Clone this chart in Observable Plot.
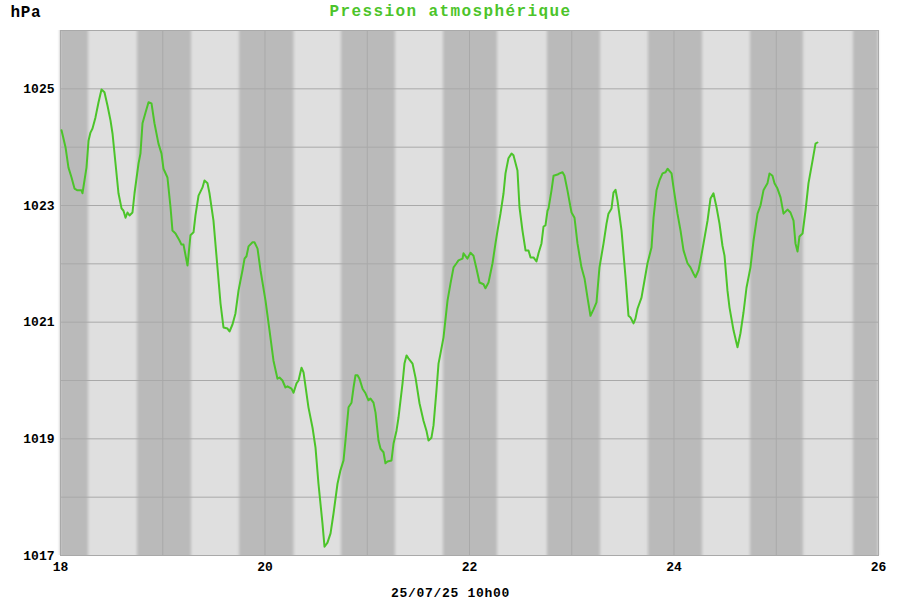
<!DOCTYPE html>
<html><head><meta charset="utf-8">
<script src="https://cdn.jsdelivr.net/npm/d3@7"></script>
<script src="https://cdn.jsdelivr.net/npm/@observablehq/plot@0.6"></script>
<style>body{margin:0;background:#fff} #chart{width:900px;height:600px}</style>
</head><body><div id="chart"></div>
<script>
const title = "Pression atmosphérique";
const unit = "hPa";
const caption = "25/07/25 10h00";
const yTicks = [1017, 1019, 1021, 1023, 1025];
const xTicks = [18, 20, 22, 24, 26];
const gridY = [1017, 1018, 1019, 1020, 1021, 1022, 1023, 1024, 1025, 1026];
const gridX = [18, 19, 20, 21, 22, 23, 24, 25, 26];
const nightStarts = [18.0, 18.753, 19.751, 20.748, 21.746, 22.763, 23.750, 24.748, 25.755];
const nightEnds = [18.274, 19.281, 20.284, 21.276, 22.274, 23.281, 24.279, 25.266, 26.0];
const times = [
18.010,18.049,18.078,18.108,18.137,18.166,18.205,18.215,18.254,18.274,
18.293,18.313,18.342,18.372,18.401,18.430,18.460,18.489,18.509,18.538,
18.567,18.597,18.616,18.636,18.655,18.675,18.704,18.724,18.763,18.782,
18.802,18.831,18.861,18.890,18.919,18.958,18.988,19.007,19.046,19.076,
19.095,19.125,19.164,19.183,19.203,19.242,19.271,19.301,19.320,19.350,
19.389,19.408,19.438,19.457,19.496,19.535,19.565,19.594,19.633,19.653,
19.682,19.711,19.741,19.780,19.800,19.819,19.839,19.878,19.897,19.927,
19.956,20.005,20.044,20.083,20.122,20.142,20.171,20.200,20.220,20.259,
20.279,20.308,20.328,20.357,20.377,
20.425,20.465,20.494,20.523,
20.562,20.582,20.611,20.641,20.670,20.709,20.738,20.768,20.787,20.817,
20.846,20.866,20.885,20.905,20.924,20.954,20.983,21.012,21.032,21.061,
21.081,21.110,21.130,21.159,21.178,21.198,21.237,21.257,21.286,21.306,
21.345,21.364,21.384,21.403,21.443,21.472,21.511,21.550,21.579,21.599,
21.628,21.648,21.677,21.697,21.716,21.746,21.785,21.814,21.844,21.873,
21.892,21.932,21.941,21.980,22.010,22.039,22.068,22.098,22.137,22.156,
22.186,22.225,22.254,22.274,22.303,22.333,22.352,22.381,22.411,22.430,
22.469,22.489,22.518,22.548,22.577,22.597,22.626,22.655,22.675,22.704,
22.724,22.743,22.763,22.773,22.802,22.822,22.861,22.880,22.910,22.929,
22.958,22.988,22.998,23.027,23.056,23.095,23.125,23.154,23.183,23.213,
23.242,23.271,23.311,23.340,23.359,23.389,23.408,23.428,23.447,23.487,
23.526,23.555,23.575,23.604,23.623,23.643,23.682,23.711,23.741,23.780,
23.800,23.829,23.858,23.888,23.917,23.937,23.976,23.995,24.034,24.064,
24.093,24.132,24.161,24.191,24.210,24.240,24.259,24.289,24.328,24.357,
24.386,24.416,24.445,24.474,24.494,24.523,24.543,24.582,24.621,24.650,
24.680,24.709,24.748,24.778,24.817,24.846,24.875,24.914,24.934,24.963,
24.983,25.012,25.042,25.071,25.110,25.139,25.169,25.188,25.208,25.227,
25.257,25.286,25.315,25.355,25.384,25.403];
const pressures = [
1024.29,1024.00,1023.65,1023.48,1023.29,1023.26,1023.26,1023.21,1023.65,1024.11,
1024.25,1024.32,1024.51,1024.77,1024.99,1024.94,1024.71,1024.46,1024.23,1023.72,
1023.21,1022.95,1022.91,1022.79,1022.88,1022.83,1022.88,1023.21,1023.72,1023.89,
1024.41,1024.59,1024.77,1024.75,1024.41,1024.06,1023.89,1023.63,1023.48,1022.97,
1022.57,1022.52,1022.40,1022.33,1022.33,1021.97,1022.49,1022.54,1022.83,1023.17,
1023.31,1023.43,1023.38,1023.21,1022.74,1021.94,1021.32,1020.91,1020.89,1020.84,
1020.96,1021.15,1021.54,1021.89,1022.09,1022.13,1022.30,1022.37,1022.37,1022.26,
1021.89,1021.37,1020.86,1020.34,1020.03,1020.05,1020.00,1019.88,1019.90,1019.86,
1019.79,1019.95,1020.00,1020.22,1020.14,
1019.54,1019.19,1018.85,1018.23,
1017.55,1017.15,1017.22,1017.38,1017.72,1018.23,1018.46,1018.63,1018.97,1019.54,
1019.62,1019.88,1020.09,1020.09,1020.03,1019.86,1019.78,1019.66,1019.69,1019.62,
1019.45,1018.97,1018.83,1018.77,1018.58,1018.61,1018.63,1018.92,1019.14,1019.37,
1019.95,1020.29,1020.43,1020.38,1020.29,1020.05,1019.61,1019.31,1019.14,1018.97,
1019.02,1019.23,1019.83,1020.29,1020.46,1020.74,1021.37,1021.66,1021.94,1022.01,
1022.06,1022.09,1022.18,1022.09,1022.19,1022.14,1021.92,1021.68,1021.65,1021.58,
1021.68,1022.01,1022.35,1022.57,1022.86,1023.21,1023.55,1023.81,1023.89,1023.86,
1023.60,1022.97,1022.57,1022.23,1022.23,1022.11,1022.11,1022.04,1022.18,1022.35,
1022.64,1022.66,1022.91,1022.95,1023.26,1023.51,1023.53,1023.55,1023.57,1023.51,
1023.26,1022.97,1022.88,1022.79,1022.35,1021.94,1021.75,1021.42,1021.11,1021.22,
1021.34,1021.94,1022.35,1022.69,1022.86,1022.95,1023.22,1023.27,1023.09,1022.57,
1021.77,1021.11,1021.08,1020.98,1021.06,1021.23,1021.42,1021.71,1022.01,1022.28,
1022.79,1023.26,1023.43,1023.55,1023.57,1023.63,1023.55,1023.31,1022.86,1022.57,
1022.23,1022.01,1021.94,1021.83,1021.77,1021.89,1022.06,1022.35,1022.74,1023.12,
1023.21,1022.97,1022.69,1022.31,1022.14,1021.54,1021.25,1020.86,1020.57,1020.81,
1021.17,1021.59,1021.94,1022.40,1022.86,1023.00,1023.26,1023.38,1023.55,1023.51,
1023.38,1023.29,1023.14,1022.86,1022.93,1022.88,1022.74,1022.35,1022.21,1022.47,
1022.52,1022.91,1023.38,1023.77,1024.06,1024.08];

const n = Math.min(times.length, pressures.length);
const series = d3.range(n).map(i => ({t: times[i], p: pressures[i]}));
const nights = nightStarts.map((s, i) => ({x1: s, x2: nightEnds[i]}));
const green = "#4cc42a";
const font = "'Liberation Mono', 'DejaVu Sans Mono', monospace";

const chart = Plot.plot({
  width: 900, height: 600,
  marginLeft: 60, marginRight: 22, marginTop: 30, marginBottom: 45,
  style: {fontFamily: font, fontSize: "13px", fontWeight: "bold", color: "#000", background: "#fff"},
  x: {domain: [18, 26], ticks: xTicks, tickSize: 0, tickPadding: 6, tickFormat: d => String(d), label: null},
  y: {domain: [1017, 1026], ticks: yTicks, tickSize: 0, tickPadding: 6, tickFormat: d => String(d), label: null},
  marks: [
    Plot.frame({fill: "#dfdfdf", stroke: null}),
    Plot.rect(nights, {x1: "x1", x2: "x2", fill: "#bababa"}),
    Plot.ruleY(gridY, {stroke: "#a9a9a9", strokeWidth: 1}),
    Plot.ruleX(gridX, {stroke: "#a9a9a9", strokeWidth: 1}),
    Plot.frame({stroke: "#a9a9a9", strokeWidth: 1}),
    Plot.line(series, {x: "t", y: "p", stroke: green, strokeWidth: 2, strokeLinejoin: "round"}),
    Plot.text([title], {frameAnchor: "top", dx: -19, dy: -20, fill: green, fontSize: 16, fontWeight: "bold", lineAnchor: "middle"}),
    Plot.text([unit], {frameAnchor: "top-left", dx: -50, dy: -19, textAnchor: "start", fill: "#000", fontSize: 16, fontWeight: "bold", lineAnchor: "middle"}),
    Plot.text([caption], {frameAnchor: "bottom", dx: -19, dy: 37, fill: "#000", fontSize: 13, fontWeight: "bold", lineAnchor: "middle"})
  ]
});
document.getElementById("chart").appendChild(chart);

// spacing of title letters and soft edges of the night bands
chart.querySelectorAll("text").forEach(t => {
  if (t.textContent === title) t.setAttribute("letter-spacing", "1.4");
  if (t.textContent === unit) t.setAttribute("letter-spacing", "0.6");
  if (t.textContent === caption) t.setAttribute("letter-spacing", "0.7");
});
const ns = "http://www.w3.org/2000/svg";
const defs = document.createElementNS(ns, "defs");
defs.innerHTML = '<filter id="soft" x="-0.1" y="0" width="1.2" height="1"><feGaussianBlur stdDeviation="1.6 0"/></filter>';
chart.insertBefore(defs, chart.firstChild);
const rg = chart.querySelector('g[aria-label="rect"]');
if (rg) rg.setAttribute("filter", "url(#soft)");
</script>
</body></html>
